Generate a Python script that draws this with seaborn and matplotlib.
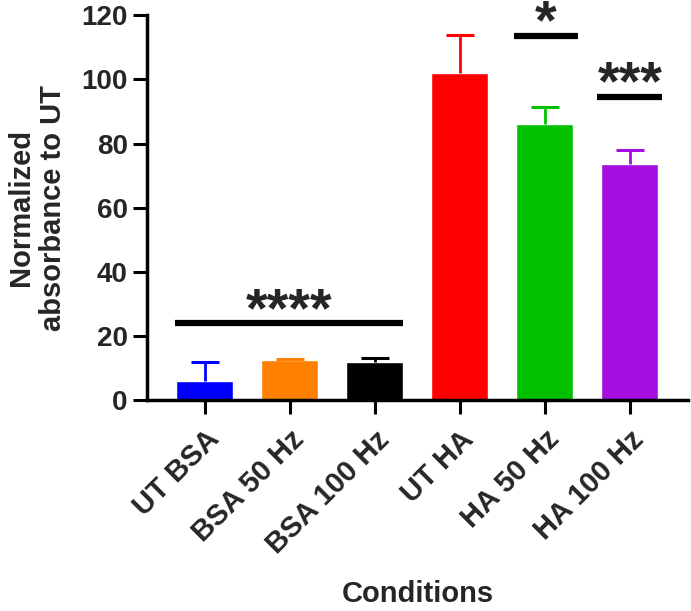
import numpy as np
import pandas as pd
import seaborn as sns
from matplotlib import pyplot as plt

conditions = ["UT BSA", "BSA 50 Hz", "BSA 100 Hz", "UT HA", "HA 50 Hz", "HA 100 Hz"]
means = [6.0, 12.5, 12.0, 102.0, 86.0, 73.5]
sd = [6.0, 0.3, 1.3, 12.0, 5.5, 4.5]
colors = ["#0000ff", "#ff8000", "#000000", "#ff0000", "#00c000", "#a50ee0"]

# significance bars: x start, x end, height, label
sig_x0 = [-0.35, 3.64, 4.62]
sig_x1 = [2.33, 4.39, 5.38]
sig_y = [24, 113.5, 94.5]
sig_lbl = ["****", "*", "***"]

sns.set_style("ticks")
plt.rcParams["font.family"] = ["Liberation Sans", "DejaVu Sans"]
plt.rcParams["font.weight"] = "bold"

df = pd.DataFrame({"cond": conditions, "val": means})

fig = plt.figure(figsize=(6.91, 6.11), dpi=100)
ax = fig.add_axes([0.213, 0.345, 0.782, 0.630])
sns.barplot(data=df, x="cond", y="val", hue="cond", palette=colors,
            legend=False, width=0.67, saturation=1, ax=ax, errorbar=None)

# upper error bars only
x = np.arange(len(conditions))
tops = np.array(means) + np.array(sd)
ax.vlines(x, means, tops, colors=colors, lw=2)
ax.hlines(tops, x - 0.165, x + 0.165, colors=colors, lw=2.2)

for x0, x1, y, t in zip(sig_x0, sig_x1, sig_y, sig_lbl):
    ax.plot([x0, x1], [y, y], color="black", lw=4.5, solid_capstyle="butt",
            clip_on=False)
    ax.text((x0 + x1) / 2, y - 0.8, t, ha="center", va="baseline",
            fontsize=40, fontweight="bold")

ax.set_ylim(0, 120)
ax.set_xlim(-0.68, 5.68)
ax.set_yticks([0, 20, 40, 60, 80, 100, 120])
ax.tick_params(axis="both", width=2.2, length=10, color="black")
ax.tick_params(axis="y", labelsize=20, pad=4)
ax.tick_params(axis="x", labelsize=21, pad=8)
ax.set_xticks(x)
ax.set_xticklabels(conditions, rotation=45, ha="right", rotation_mode="anchor",
                   fontweight="bold")
for lbl in ax.get_yticklabels():
    lbl.set_fontweight("bold")
ax.set_ylabel("Normalized\nabsorbance to UT", fontsize=21, fontweight="bold",
              labelpad=10)
ax.set_xlabel("Conditions", fontsize=21, fontweight="bold", labelpad=15)
for sp in ["left", "bottom"]:
    ax.spines[sp].set_linewidth(2.5)
    ax.spines[sp].set_color("black")
sns.despine(ax=ax)

fig.savefig("out.png", dpi=100)
